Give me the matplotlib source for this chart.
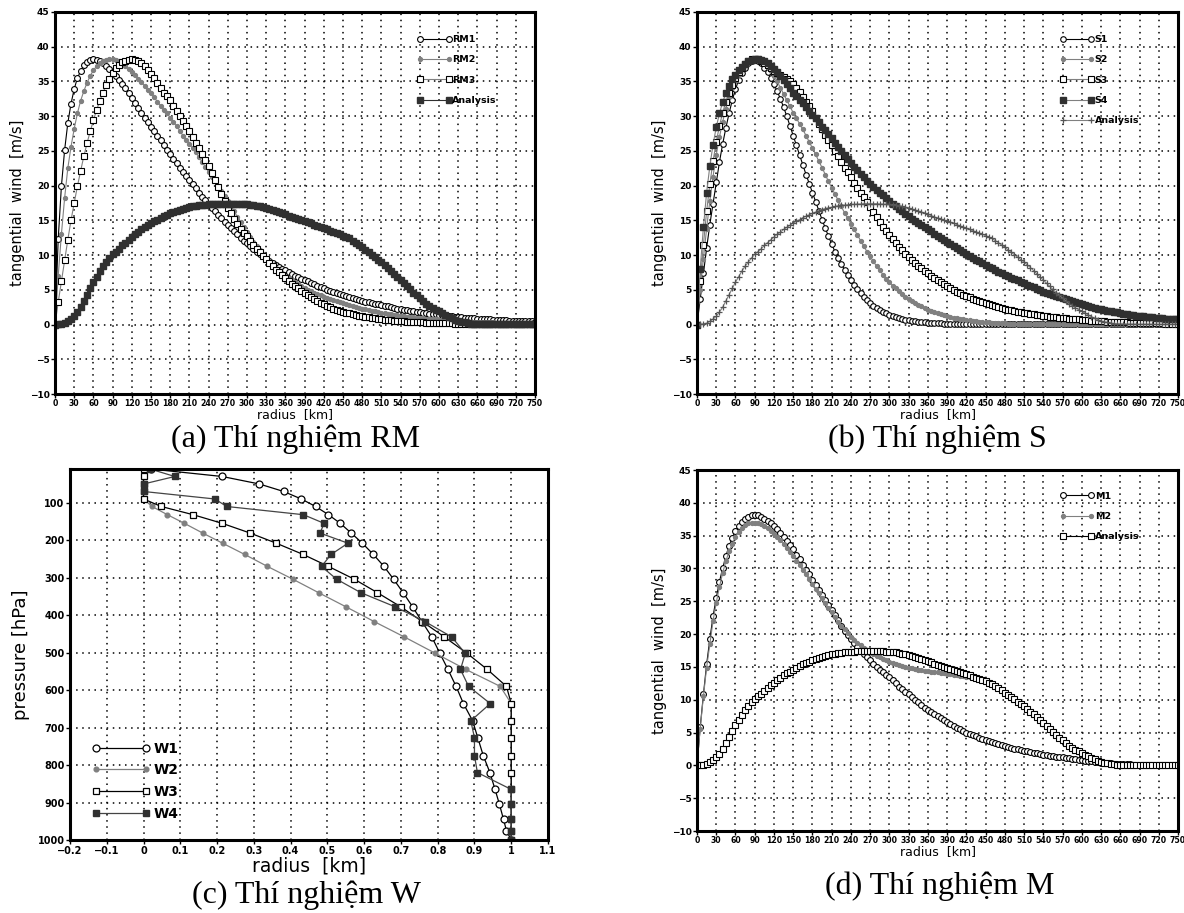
import matplotlib
matplotlib.use("Agg")
import matplotlib.pyplot as plt

plt.rcParams['font.family'] = ['DejaVu Sans']
plt.rcParams['font.weight'] = 'bold'

# --- radius grid (every 5 km, 0..750) ---
RADIUS_KM = list(range(0, 755, 5))

# --- same analysis profile shown in (a), (b) and (d) ---
ANALYSIS = [
    0.0, 0.05, 0.1, 0.2, 0.45, 0.8, 1.2, 1.8, 2.5, 3.4,
    4.3, 5.2, 6.1, 6.9, 7.7, 8.4, 9.0, 9.6, 10.1, 10.5,
    10.9, 11.4, 11.8, 12.2, 12.6, 13.0, 13.3, 13.7, 14.0, 14.3,
    14.6, 14.9, 15.1, 15.4, 15.6, 15.8, 16.0, 16.2, 16.4, 16.55,
    16.7, 16.8, 16.9, 17.0, 17.1, 17.15, 17.2, 17.25, 17.3, 17.3,
    17.35, 17.35, 17.4, 17.4, 17.4, 17.4, 17.4, 17.35, 17.35, 17.3,
    17.3, 17.25, 17.2, 17.1, 17.0, 16.9, 16.8, 16.65, 16.5, 16.35,
    16.2, 16.05, 15.9, 15.7, 15.5, 15.35, 15.2, 15.05, 14.9, 14.75,
    14.6, 14.4, 14.2, 14.05, 13.9, 13.7, 13.5, 13.35, 13.2, 13.0,
    12.8, 12.6, 12.4, 12.1, 11.8, 11.45, 11.1, 10.75, 10.4, 10.05,
    9.7, 9.35, 9.0, 8.6, 8.2, 7.75, 7.3, 6.85, 6.4, 5.95,
    5.5, 5.05, 4.6, 4.2, 3.8, 3.4, 3.0, 2.7, 2.4, 2.15,
    1.9, 1.65, 1.4, 1.15, 0.9, 0.7, 0.5, 0.4, 0.3, 0.22,
    0.15, 0.12, 0.1, 0.08, 0.07, 0.06, 0.05, 0.05, 0.04, 0.04,
    0.03, 0.03, 0.03, 0.02, 0.02, 0.02, 0.02, 0.02, 0.02, 0.01,
    0.01]

# --- (a) RM experiments ---
RM1 = [
    0.0, 12.3, 19.9, 25.1, 29.0, 31.8, 33.9, 35.5, 36.5, 37.3,
    37.8, 38.1, 38.2, 38.1, 37.9, 37.6, 37.2, 36.8, 36.3, 35.8,
    35.2, 34.6, 34.0, 33.3, 32.6, 31.9, 31.2, 30.5, 29.8, 29.1,
    28.4, 27.8, 27.1, 26.5, 25.8, 25.2, 24.6, 23.9, 23.3, 22.6,
    22.0, 21.4, 20.8, 20.2, 19.6, 19.0, 18.4, 17.9, 17.4, 16.8,
    16.3, 15.8, 15.3, 14.8, 14.3, 13.9, 13.4, 13.0, 12.5, 12.1,
    11.7, 11.3, 10.9, 10.5, 10.2, 9.8, 9.5, 9.2, 8.9, 8.6,
    8.3, 8.0, 7.8, 7.5, 7.3, 7.0, 6.8, 6.6, 6.4, 6.2,
    6.0, 5.8, 5.6, 5.4, 5.2, 5.0, 4.85, 4.7, 4.55, 4.4,
    4.25, 4.1, 3.95, 3.8, 3.65, 3.5, 3.4, 3.3, 3.2, 3.1,
    3.0, 2.9, 2.8, 2.7, 2.6, 2.5, 2.4, 2.3, 2.2, 2.15,
    2.05, 1.95, 1.9, 1.8, 1.75, 1.7, 1.6, 1.55, 1.5, 1.45,
    1.4, 1.35, 1.3, 1.25, 1.2, 1.15, 1.1, 1.05, 1.0, 0.97,
    0.93, 0.9, 0.86, 0.83, 0.8, 0.77, 0.74, 0.71, 0.68, 0.65,
    0.63, 0.6, 0.58, 0.56, 0.54, 0.52, 0.5, 0.48, 0.46, 0.44,
    0.42]
RM2 = [
    0.0, 7.0, 13.0, 18.2, 22.5, 25.6, 28.2, 30.4, 32.2, 33.6,
    34.8, 35.8, 36.6, 37.2, 37.6, 37.9, 38.1, 38.2, 38.2, 38.1,
    37.9, 37.6, 37.2, 36.8, 36.4, 35.9, 35.4, 34.9, 34.4, 33.8,
    33.3, 32.7, 32.1, 31.5, 30.9, 30.4, 29.8, 29.2, 28.6, 27.9,
    27.2, 26.6, 26.0, 25.4, 24.8, 24.1, 23.4, 22.7, 22.0, 21.3,
    20.6, 19.9, 19.2, 18.5, 17.8, 17.0, 16.3, 15.5, 14.8, 14.0,
    13.3, 12.6, 11.9, 11.3, 10.7, 10.1, 9.6, 9.1, 8.6, 8.2,
    7.8, 7.4, 7.0, 6.7, 6.4, 6.1, 5.8, 5.5, 5.3, 5.0,
    4.8, 4.6, 4.4, 4.2, 4.0, 3.8, 3.65, 3.5, 3.35, 3.2,
    3.05, 2.9, 2.8, 2.65, 2.55, 2.4, 2.3, 2.2, 2.1, 2.0,
    1.9, 1.8, 1.7, 1.62, 1.55, 1.48, 1.4, 1.33, 1.27, 1.2,
    1.15, 1.1, 1.04, 1.0, 0.95, 0.9, 0.86, 0.82, 0.78, 0.74,
    0.7, 0.67, 0.64, 0.61, 0.58, 0.55, 0.52, 0.5, 0.47, 0.45,
    0.43, 0.41, 0.39, 0.37, 0.35, 0.33, 0.32, 0.3, 0.29, 0.27,
    0.26, 0.25, 0.24, 0.23, 0.22, 0.21, 0.2, 0.19, 0.18, 0.17,
    0.16]
RM3 = [
    0.0, 3.2, 6.2, 9.3, 12.2, 15.0, 17.5, 19.9, 22.1, 24.2,
    26.1, 27.8, 29.4, 30.9, 32.2, 33.4, 34.5, 35.4, 36.2, 36.9,
    37.4, 37.8, 38.0, 38.15, 38.2, 38.1, 37.9, 37.6, 37.2, 36.7,
    36.1, 35.5, 34.8, 34.1, 33.4, 32.9, 32.3, 31.5, 30.8, 30.0,
    29.3, 28.6, 27.8, 27.0, 26.2, 25.4, 24.6, 23.7, 22.8, 21.8,
    20.8, 19.8, 18.8, 17.8, 16.8, 16.0, 15.2, 14.5, 13.8, 13.2,
    12.7, 12.1, 11.5, 10.9, 10.4, 9.9, 9.4, 8.9, 8.4, 7.9,
    7.5, 7.1, 6.7, 6.3, 5.9, 5.6, 5.2, 4.9, 4.6, 4.3,
    4.0, 3.7, 3.4, 3.15, 2.9, 2.7, 2.5, 2.3, 2.15, 2.0,
    1.85, 1.7, 1.6, 1.5, 1.4, 1.3, 1.2, 1.1, 1.02, 0.95,
    0.88, 0.81, 0.75, 0.7, 0.65, 0.6, 0.56, 0.52, 0.48, 0.45,
    0.42, 0.39, 0.36, 0.34, 0.32, 0.3, 0.28, 0.26, 0.24, 0.22,
    0.2, 0.19, 0.18, 0.17, 0.16, 0.15, 0.14, 0.13, 0.12, 0.11,
    0.1, 0.1, 0.09, 0.09, 0.08, 0.08, 0.07, 0.07, 0.06, 0.06,
    0.06, 0.05, 0.05, 0.05, 0.05, 0.04, 0.04, 0.04, 0.04, 0.03,
    0.03]

# --- (b) S experiments ---
S1 = [
    0.0, 3.7, 7.4, 11.0, 14.4, 17.4, 20.5, 23.4, 26.0, 28.3,
    30.4, 32.3, 33.9, 35.2, 36.2, 37.0, 37.6, 38.0, 38.2, 38.0,
    37.6, 37.0, 36.3, 35.5, 34.6, 33.6, 32.5, 31.3, 30.0, 28.6,
    27.2, 25.8, 24.4, 23.0, 21.6, 20.3, 19.0, 17.7, 16.4, 15.1,
    13.9, 12.7, 11.6, 10.5, 9.6, 8.7, 7.9, 7.1, 6.4, 5.7,
    5.1, 4.5, 4.0, 3.5, 3.1, 2.7, 2.4, 2.1, 1.85, 1.6,
    1.4, 1.22, 1.06, 0.92, 0.8, 0.7, 0.6, 0.52, 0.45, 0.39,
    0.34, 0.3, 0.26, 0.23, 0.2, 0.18, 0.16, 0.14, 0.12, 0.11,
    0.1, 0.09, 0.08, 0.08, 0.07, 0.07, 0.06, 0.06, 0.05, 0.05,
    0.05, 0.04, 0.04, 0.04, 0.04, 0.03, 0.03, 0.03, 0.03, 0.03,
    0.03, 0.02, 0.02, 0.02, 0.02, 0.02, 0.02, 0.02, 0.02, 0.02,
    0.02, 0.02, 0.02, 0.02, 0.01, 0.01, 0.01, 0.01, 0.01, 0.01,
    0.01, 0.01, 0.01, 0.01, 0.01, 0.01, 0.01, 0.01, 0.01, 0.01,
    0.01, 0.01, 0.01, 0.01, 0.01, 0.01, 0.01, 0.01, 0.01, 0.01,
    0.01, 0.01, 0.01, 0.01, 0.01, 0.01, 0.01, 0.01, 0.01, 0.01,
    0.01]
S2 = [
    0.0, 5.0, 9.5, 13.8, 17.8, 21.3, 24.4, 27.0, 29.2, 31.1,
    32.7, 34.0, 35.1, 36.0, 36.8, 37.4, 37.9, 38.2, 38.3, 38.2,
    38.0, 37.6, 37.1, 36.5, 35.8, 35.0, 34.1, 33.2, 32.3, 31.4,
    30.5, 29.7, 28.9, 28.1, 27.2, 26.3, 25.4, 24.5, 23.5, 22.6,
    21.6, 20.6, 19.7, 18.8, 17.9, 17.0, 16.1, 15.3, 14.5, 13.7,
    12.9, 12.1, 11.3, 10.5, 9.8, 9.1, 8.4, 7.8, 7.2, 6.6,
    6.1, 5.6, 5.2, 4.8, 4.4, 4.0, 3.7, 3.4, 3.1, 2.85,
    2.6, 2.35, 2.15, 1.95, 1.77, 1.6, 1.45, 1.32, 1.2, 1.09,
    0.99, 0.9, 0.82, 0.74, 0.67, 0.6, 0.54, 0.48, 0.43, 0.38,
    0.34, 0.3, 0.27, 0.24, 0.21, 0.19, 0.17, 0.15, 0.13, 0.12,
    0.11, 0.1, 0.09, 0.08, 0.07, 0.07, 0.06, 0.06, 0.05, 0.05,
    0.05, 0.04, 0.04, 0.04, 0.04, 0.03, 0.03, 0.03, 0.03, 0.03,
    0.03, 0.02, 0.02, 0.02, 0.02, 0.02, 0.02, 0.02, 0.02, 0.02,
    0.02, 0.02, 0.02, 0.02, 0.01, 0.01, 0.01, 0.01, 0.01, 0.01,
    0.01, 0.01, 0.01, 0.01, 0.01, 0.01, 0.01, 0.01, 0.01, 0.01,
    0.01]
S3 = [
    0.0, 6.2, 11.5, 16.3, 20.2, 23.5, 26.3, 28.6, 30.5, 32.1,
    33.4, 34.5, 35.5, 36.3, 36.9, 37.5, 37.9, 38.2, 38.3, 38.2,
    38.0, 37.7, 37.3, 36.9, 36.5, 36.2, 35.9, 35.6, 35.3, 35.0,
    34.7, 34.1, 33.5, 32.8, 32.1, 31.4, 30.7, 29.8, 28.9, 28.1,
    27.3, 26.6, 25.9, 25.0, 24.2, 23.4, 22.6, 21.9, 21.2, 20.4,
    19.7, 19.0, 18.3, 17.6, 16.9, 16.2, 15.5, 14.8, 14.1, 13.5,
    12.9, 12.3, 11.7, 11.2, 10.7, 10.2, 9.7, 9.3, 8.9, 8.5,
    8.1, 7.7, 7.4, 7.0, 6.7, 6.4, 6.1, 5.8, 5.5, 5.2,
    5.0, 4.75, 4.5, 4.3, 4.1, 3.9, 3.7, 3.5, 3.35, 3.2,
    3.05, 2.9, 2.75, 2.6, 2.48, 2.36, 2.25, 2.14, 2.04, 1.95,
    1.86, 1.77, 1.69, 1.61, 1.54, 1.47, 1.4, 1.33, 1.27, 1.21,
    1.15, 1.1, 1.05, 1.0, 0.95, 0.9, 0.86, 0.82, 0.78, 0.74,
    0.7, 0.66, 0.62, 0.58, 0.55, 0.52, 0.49, 0.46, 0.43, 0.4,
    0.38, 0.36, 0.34, 0.32, 0.3, 0.28, 0.26, 0.25, 0.24, 0.22,
    0.21, 0.2, 0.19, 0.18, 0.17, 0.16, 0.15, 0.14, 0.13, 0.12,
    0.12]
S4 = [
    0.0, 8.0, 14.0, 19.0, 22.8, 25.9, 28.4, 30.4, 32.0, 33.3,
    34.4, 35.3, 36.0, 36.6, 37.1, 37.5, 37.9, 38.15, 38.3, 38.3,
    38.1, 37.9, 37.6, 37.2, 36.8, 36.3, 35.8, 35.2, 34.6, 34.0,
    33.4, 32.9, 32.4, 31.9, 31.3, 30.8, 30.2, 29.7, 29.1, 28.5,
    28.0, 27.4, 26.8, 26.2, 25.6, 25.0, 24.4, 23.8, 23.2, 22.7,
    22.2, 21.7, 21.2, 20.7, 20.2, 19.8, 19.4, 19.0, 18.6, 18.2,
    17.8, 17.4, 17.0, 16.6, 16.3, 15.9, 15.6, 15.2, 14.9, 14.6,
    14.3, 14.0, 13.7, 13.4, 13.1, 12.8, 12.5, 12.2, 11.9, 11.6,
    11.3, 11.0, 10.7, 10.4, 10.1, 9.85, 9.6, 9.35, 9.1, 8.85,
    8.6, 8.35, 8.1, 7.85, 7.6, 7.4, 7.2, 6.95, 6.75, 6.55,
    6.35, 6.15, 5.95, 5.75, 5.55, 5.35, 5.15, 4.95, 4.75, 4.6,
    4.4, 4.25, 4.1, 3.95, 3.8, 3.65, 3.5, 3.35, 3.2, 3.05,
    2.9, 2.78, 2.66, 2.54, 2.42, 2.3, 2.2, 2.1, 2.0, 1.9,
    1.82, 1.74, 1.66, 1.58, 1.5, 1.43, 1.36, 1.3, 1.24, 1.18,
    1.12, 1.07, 1.02, 0.98, 0.94, 0.9, 0.86, 0.83, 0.8, 0.77,
    0.74]

# --- (d) M experiments ---
M1 = [
    0.0, 5.8, 10.8, 15.4, 19.2, 22.7, 25.5, 28.0, 30.0, 31.9,
    33.4, 34.7, 35.7, 36.5, 37.1, 37.6, 37.9, 38.1, 38.2, 38.1,
    37.9, 37.6, 37.3, 36.9, 36.5, 36.0, 35.4, 34.8, 34.2, 33.5,
    32.9, 32.1, 31.4, 30.6, 29.8, 29.1, 28.3, 27.5, 26.7, 25.9,
    25.2, 24.4, 23.6, 22.9, 22.1, 21.3, 20.5, 19.8, 19.2, 18.6,
    18.0, 17.5, 17.0, 16.5, 16.0, 15.5, 15.0, 14.6, 14.2, 13.8,
    13.4, 13.0, 12.5, 12.0, 11.6, 11.2, 10.8, 10.4, 10.0, 9.6,
    9.2, 8.8, 8.5, 8.1, 7.8, 7.5, 7.2, 6.9, 6.6, 6.3,
    6.0, 5.75, 5.5, 5.25, 5.0, 4.8, 4.6, 4.4, 4.2, 4.0,
    3.8, 3.65, 3.5, 3.35, 3.2, 3.05, 2.9, 2.8, 2.7, 2.55,
    2.45, 2.35, 2.25, 2.15, 2.05, 1.95, 1.85, 1.75, 1.65, 1.57,
    1.5, 1.42, 1.35, 1.27, 1.2, 1.13, 1.06, 1.0, 0.93, 0.86,
    0.8, 0.73, 0.67, 0.6, 0.54, 0.48, 0.43, 0.38, 0.34, 0.3,
    0.26, 0.23, 0.2, 0.18, 0.16, 0.14, 0.12, 0.11, 0.1, 0.09,
    0.08, 0.07, 0.07, 0.06, 0.06, 0.05, 0.05, 0.05, 0.04, 0.04,
    0.04]
M2 = [
    0.0, 5.6, 10.5, 14.9, 18.5, 22.0, 24.8, 27.2, 29.3, 31.1,
    32.6, 33.8, 34.8, 35.6, 36.2, 36.6, 36.9, 37.0, 37.0, 36.9,
    36.7, 36.4, 36.1, 35.7, 35.3, 34.8, 34.3, 33.7, 33.1, 32.5,
    31.9, 31.2, 30.5, 29.8, 29.1, 28.4, 27.7, 26.9, 26.2, 25.5,
    24.7, 24.0, 23.3, 22.6, 21.9, 21.3, 20.7, 20.1, 19.6, 19.1,
    18.7, 18.3, 17.9, 17.6, 17.3, 17.0, 16.7, 16.5, 16.2, 16.0,
    15.8, 15.6, 15.4, 15.25, 15.1, 15.0, 14.9, 14.8, 14.7, 14.6,
    14.5, 14.4, 14.35, 14.3, 14.2, 14.15, 14.1, 14.0, 13.95, 13.9,
    13.8, 13.7, 13.65, 13.55, 13.5, 13.4, 13.3, 13.2, 13.1, 13.0,
    12.85, 12.6, 12.4, 12.1, 11.8, 11.45, 11.1, 10.75, 10.4, 10.05,
    9.7, 9.35, 9.0, 8.6, 8.2, 7.75, 7.3, 6.85, 6.4, 5.95,
    5.5, 5.05, 4.6, 4.2, 3.8, 3.4, 3.0, 2.7, 2.4, 2.15,
    1.9, 1.65, 1.4, 1.15, 0.9, 0.7, 0.5, 0.4, 0.3, 0.22,
    0.15, 0.12, 0.1, 0.08, 0.07, 0.06, 0.05, 0.05, 0.04, 0.04,
    0.03, 0.03, 0.03, 0.02, 0.02, 0.02, 0.02, 0.02, 0.02, 0.01,
    0.01]

for name, arr in [('ANALYSIS', ANALYSIS), ('RM1', RM1), ('RM2', RM2), ('RM3', RM3),
                  ('S1', S1), ('S2', S2), ('S3', S3), ('S4', S4), ('M1', M1), ('M2', M2)]:
    assert len(arr) == len(RADIUS_KM), (name, len(arr))

# --- (c) W experiments: vertical profiles ---
LEVELS_HPA = [1000, 975, 945, 905, 865, 820, 775, 727, 682, 636,
              590, 545, 502, 458, 417, 378, 340, 304, 270, 238,
              208, 181, 155, 132, 110, 90, 70, 50, 30, 10]
W1 = [1.0, 0.987, 0.979, 0.968, 0.956, 0.942, 0.924, 0.909, 0.895, 0.87,
      0.85, 0.828, 0.806, 0.784, 0.757, 0.732, 0.706, 0.68, 0.654, 0.625,
      0.595, 0.565, 0.535, 0.503, 0.468, 0.429, 0.381, 0.315, 0.214, 0.02]
W2 = [1.0, 1.0, 1.0, 1.0, 1.0, 1.0, 1.0, 1.0, 1.0, 1.0,
      0.97, 0.877, 0.794, 0.709, 0.627, 0.551, 0.476, 0.406, 0.337, 0.275,
      0.215, 0.161, 0.111, 0.065, 0.023, 0.0, 0.0, 0.0, 0.0, 0.0]
W3 = [1.0, 1.0, 1.0, 1.0, 1.0, 1.0, 1.0, 1.0, 1.0, 1.0,
      0.987, 0.935, 0.88, 0.818, 0.758, 0.70, 0.636, 0.573, 0.503, 0.434,
      0.361, 0.29, 0.214, 0.135, 0.048, 0.0, 0.0, 0.0, 0.0, 0.0]
W4 = [1.0, 1.0, 1.0, 1.0, 1.0, 0.908, 0.90, 0.90, 0.89, 0.943,
      0.884, 0.862, 0.875, 0.838, 0.765, 0.685, 0.591, 0.525, 0.484, 0.51,
      0.556, 0.48, 0.491, 0.435, 0.226, 0.194, 0.0, 0.0, 0.085, 0.018]

W_XTICKS = [-0.2, -0.1, 0.0, 0.1, 0.2, 0.3, 0.4, 0.5, 0.6, 0.7, 0.8, 0.9, 1.0, 1.1]
W_XLABELS = ['\u22120.2', '\u22120.1', '0', '0.1', '0.2', '0.3', '0.4', '0.5',
             '0.6', '0.7', '0.8', '0.9', '1', '1.1']
W_YTICKS = [100, 200, 300, 400, 500, 600, 700, 800, 900, 1000]

CAPTIONS = ['(a) Thí nghiệm RM', '(b) Thí nghiệm S', '(c) Thí nghiệm W', '(d) Thí nghiệm M']

GRAY = '#808080'
DARK = '#303030'
W, H = 1184, 913


def box(x0, x1, top, bottom):
    return [x0 / W, 1 - bottom / H, (x1 - x0) / W, (bottom - top) / H]


def frame(ax):
    ax.grid(True, color='black', linestyle=(0, (1, 3)), linewidth=1.1)
    ax.set_axisbelow(True)
    for s in ax.spines.values():
        s.set_linewidth(2.2)
    ax.tick_params(direction='out', length=3, width=1, pad=1, labelsize=6.5)


def wind_axes(ax):
    ax.set_xlim(0, 750)
    ax.set_ylim(-10, 45)
    ax.set_xticks(range(0, 751, 30))
    ax.set_yticks(range(-10, 46, 5))
    frame(ax)
    ax.tick_params(axis='x', labelsize=5.6, pad=0.5)
    ax.set_xlabel('radius  [km]', fontsize=9, labelpad=0)
    ax.set_ylabel('tangential  wind  [m/s]', fontsize=10.5, labelpad=3)


def wind_legend(ax):
    ax.legend(loc='upper left', bbox_to_anchor=(0.755, 0.94), numpoints=2,
              frameon=False, handlelength=3.6, handletextpad=0.05,
              labelspacing=1.2, borderpad=0, borderaxespad=0,
              prop={'size': 6.8, 'weight': 'bold'})


fig = plt.figure(figsize=(W / 100, H / 100), dpi=100)

# (a)
ax = fig.add_axes(box(55, 535, 12, 394))
ax.plot(RADIUS_KM, RM1, color='black', lw=0.8, marker='o', ms=4.2, mfc='white', mec='black', mew=0.8, label='RM1')
ax.plot(RADIUS_KM, RM2, color=GRAY, lw=0.8, marker='o', ms=2.8, mfc=GRAY, mec=GRAY, label='RM2')
ax.plot(RADIUS_KM, RM3, color=GRAY, lw=0.8, marker='s', ms=4.2, mfc='white', mec='black', mew=0.8, label='RM3')
ax.plot(RADIUS_KM, ANALYSIS, color=DARK, lw=0.8, marker='s', ms=4.4, mfc=DARK, mec=DARK, label='Analysis')
wind_axes(ax)
wind_legend(ax)

# (b)
ax = fig.add_axes(box(697, 1178, 12, 394))
ax.plot(RADIUS_KM, S1, color='black', lw=0.8, marker='o', ms=4.0, mfc='white', mec='black', mew=0.8, label='S1')
ax.plot(RADIUS_KM, S2, color=GRAY, lw=0.8, marker='o', ms=2.8, mfc=GRAY, mec=GRAY, label='S2')
ax.plot(RADIUS_KM, S3, color=GRAY, lw=0.8, marker='s', ms=4.2, mfc='white', mec='black', mew=0.8, label='S3')
ax.plot(RADIUS_KM, S4, color=GRAY, lw=0.8, marker='s', ms=4.4, mfc=DARK, mec=DARK, label='S4')
ax.plot(RADIUS_KM, ANALYSIS, color=GRAY, lw=0.8, marker='+', ms=3.8, mec='#555555', mew=0.9, label='Analysis')
wind_axes(ax)
wind_legend(ax)

# (c)
ax = fig.add_axes(box(70, 548, 469, 840))
ax.plot(W1, LEVELS_HPA, color='black', lw=0.9, marker='o', ms=5.0, mfc='white', mec='black', mew=0.9, label='W1')
ax.plot(W2, LEVELS_HPA, color=GRAY, lw=0.9, marker='o', ms=3.4, mfc=GRAY, mec=GRAY, label='W2')
ax.plot(W3, LEVELS_HPA, color='black', lw=0.9, marker='s', ms=5.0, mfc='white', mec='black', mew=0.9, label='W3')
ax.plot(W4, LEVELS_HPA, color='#444444', lw=0.9, marker='s', ms=5.0, mfc=DARK, mec=DARK, label='W4')
ax.set_xlim(-0.2, 1.1)
ax.set_ylim(1000, 10)
ax.set_xticks(W_XTICKS)
ax.set_xticklabels(W_XLABELS)
ax.set_yticks(W_YTICKS)
frame(ax)
ax.tick_params(labelsize=7)
ax.set_xlabel('radius  [km]', fontsize=13.5, labelpad=1)
ax.set_ylabel('pressure [hPa]', fontsize=13, labelpad=5)
ax.legend(loc='upper left', bbox_to_anchor=(0.045, 0.265), numpoints=2,
          frameon=False, handlelength=4.2, handletextpad=0.3,
          labelspacing=0.55, borderpad=0, borderaxespad=0,
          prop={'size': 10, 'weight': 'bold'})

# (d)
ax = fig.add_axes(box(697, 1178, 470, 831))
ax.plot(RADIUS_KM, M1, color='black', lw=0.8, marker='o', ms=4.2, mfc='white', mec='black', mew=0.8, label='M1')
ax.plot(RADIUS_KM, M2, color=GRAY, lw=0.8, marker='o', ms=2.8, mfc=GRAY, mec=GRAY, label='M2')
ax.plot(RADIUS_KM, ANALYSIS, color='black', lw=0.8, marker='s', ms=4.2, mfc='white', mec='black', mew=0.8, label='Analysis')
wind_axes(ax)
wind_legend(ax)

# captions under each panel
serif = ['Liberation Serif', 'DejaVu Serif']
cap = dict(ha='center', va='center', fontsize=23, family=serif, weight='normal')
fig.text(296 / W, 1 - 439 / H, CAPTIONS[0], **cap)
fig.text(937 / W, 1 - 439 / H, CAPTIONS[1], **cap)
fig.text(307 / W, 1 - 895 / H, CAPTIONS[2], **cap)
fig.text(940 / W, 1 - 886 / H, CAPTIONS[3], **cap)

fig.savefig('out.png', dpi=100)
